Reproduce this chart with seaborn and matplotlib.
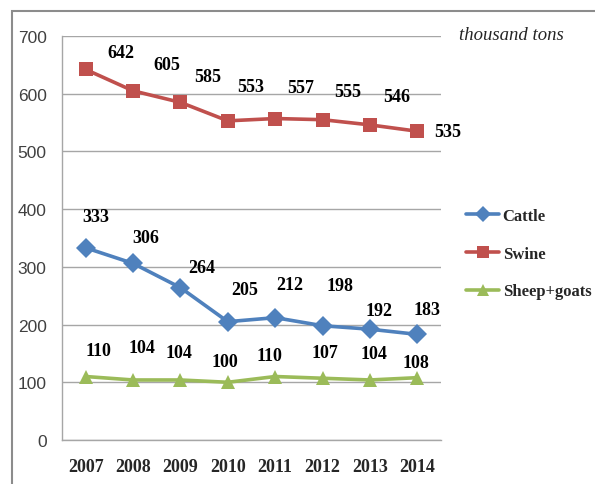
import pandas as pd
import seaborn as sns
from matplotlib import pyplot as plt
from matplotlib.patches import Rectangle

years = ["2007", "2008", "2009", "2010", "2011", "2012", "2013", "2014"]
cattle = [333, 306, 264, 205, 212, 198, 192, 183]
swine = [642, 605, 585, 553, 557, 555, 546, 535]
sheep_goats = [110, 104, 104, 100, 110, 107, 104, 108]
series_names = ["Cattle", "Swine", "Sheep+goats"]

# label offsets in pixels (dx, dy)
label_offsets = {
    "Cattle": [(10, 31), (13, 26), (21, 20), (17, 32), (15, 33), (17, 40), (9, 19), (10, 25)],
    "Swine": [(35, 17), (34, 26), (27, 26), (23, 34), (25, 31), (25, 28), (27, 28), (30, 0)],
    "Sheep+goats": [(13, 26), (9, 32), (-1, 27), (-3, 21), (-6, 21), (2, 26), (4, 26), (-1, 15)],
}
colors = {"Cattle": "#4F81BD", "Swine": "#C0504D", "Sheep+goats": "#9BBB59"}
markers = {"Cattle": "D", "Swine": "s", "Sheep+goats": "^"}

df = pd.DataFrame({
    "year": years * 3,
    "value": cattle + swine + sheep_goats,
    "series": [n for n in series_names for _ in years],
})

sns.set_style("white")
serif = ["Liberation Serif", "DejaVu Serif"]

fig = plt.figure(figsize=(5.95, 4.85), dpi=100)
ax = fig.add_axes([62 / 595, 1 - 441 / 485, (441 - 62) / 595, (441 - 37) / 485])

sns.lineplot(
    data=df, x="year", y="value", hue="series", style="series",
    hue_order=series_names, style_order=series_names,
    palette=colors, markers=markers, dashes=False,
    markersize=10.5, markeredgewidth=0, linewidth=2.6, ax=ax, sort=False,
)

for name in series_names:
    sub = df[df["series"] == name].reset_index(drop=True)
    for i, row in sub.iterrows():
        dx, dy = label_offsets[name][i]
        ax.annotate(
            str(row["value"]), (i, row["value"]), xytext=(dx, dy),
            textcoords="offset pixels", ha="center", va="center",
            fontsize=13, fontweight="bold", family=serif, color="black",
        )

ax.set_xlim(-0.5, len(years) - 0.5)
ax.set_ylim(0, 700)
ax.set_yticks(range(0, 701, 100))
ax.set_xlabel("")
ax.set_ylabel("")
ax.grid(axis="y", color="#a6a6a6", linewidth=1)
ax.set_axisbelow(True)
for side in ["top", "right"]:
    ax.spines[side].set_visible(False)
for side in ["left", "bottom"]:
    ax.spines[side].set_color("#a6a6a6")
    ax.spines[side].set_linewidth(1)

ax.set_xticks([x - 0.5 for x in range(len(years) + 1)], minor=True)
ax.tick_params(axis="x", which="minor", length=6, color="#a6a6a6", width=1, direction="out")
ax.tick_params(axis="x", which="major", length=0, pad=13)
ax.tick_params(axis="y", length=5, color="#a6a6a6", width=1, direction="out", pad=6,
               labelsize=12.5, labelcolor="#404040")
for lbl in ax.get_xticklabels():
    lbl.set_family(serif)
    lbl.set_fontweight("bold")
    lbl.set_fontsize(13)
for lbl in ax.get_yticklabels():
    lbl.set_family(["Liberation Sans", "DejaVu Sans"])

fig.text(511 / 595, 1 - 35 / 485, "thousand tons", ha="center", va="center",
         fontsize=13.5, style="italic", family=serif)

handles, labels = ax.get_legend_handles_labels()
for h in handles:
    h.set_markersize(8)
ax.legend(
    handles, labels, loc="upper left", bbox_to_anchor=(466 / 595, 1 - 209 / 485),
    bbox_transform=fig.transFigure, frameon=False, borderpad=0, borderaxespad=0,
    handlelength=2.0, handletextpad=0.2, labelspacing=1.3,
    prop={"family": serif, "weight": "bold", "size": 12},
)

fig.patches.append(Rectangle((12 / 595, -0.1), 1.2, 1 - 12 / 485 + 0.1,
                             transform=fig.transFigure, fill=False,
                             edgecolor="#8c8c8c", linewidth=1.5))

fig.savefig("out.png", dpi=100)
